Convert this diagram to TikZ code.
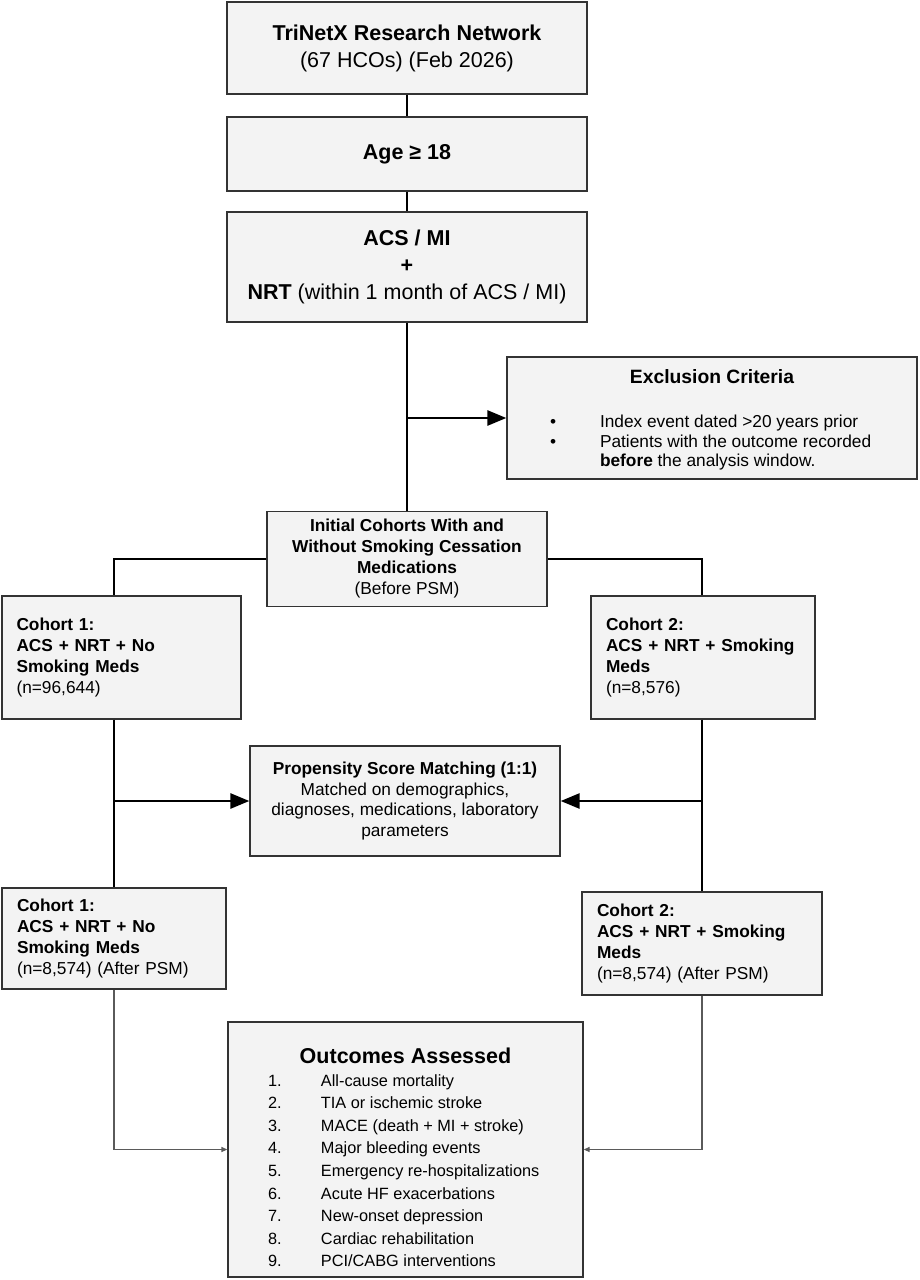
\documentclass[tikz,border=0pt]{standalone}
\usepackage{fontspec}
\setmainfont{Liberation Sans}
\usetikzlibrary{arrows.meta}
\definecolor{boxfill}{HTML}{F3F3F3}
\definecolor{boxline}{HTML}{333333}
\definecolor{thinline}{HTML}{5A5A5A}
\newcommand{\bigfont}{\fontsize{21.5}{27}\selectfont}
\newcommand{\midfont}{\fontsize{17.3}{20.8}\selectfont}
\newcommand{\exbullet}{\hspace*{43pt}\textbullet}

\begin{document}
\begin{tikzpicture}[x=1pt, y=-1pt,
  box/.style={draw=boxline, fill=boxfill, line width=1.3pt, inner sep=0pt, align=center},
  cohort/.style={box, align=left, inner xsep=15pt, font=\midfont},
  link/.style={line width=2.7pt},
  bigarrow/.style={link, -{Triangle[length=19pt,width=15pt]}},
  thinarrow/.style={draw=thinline, line width=1.3pt, -{Triangle[length=6pt,width=5pt]}}]
\useasboundingbox (0,0) rectangle (919,1280);
%\draw[help lines, color=gray!30, dashed] (0,0) grid[step=50] (919,1280);
\node[box, minimum width=360pt, minimum height=92pt, font=\bigfont] (network) at (407,48) {\textbf{TriNetX Research Network}\\(67 HCOs) (Feb 2026)};
\node[box, minimum width=360pt, minimum height=74pt, font=\bigfont\bfseries] (age) at (407,154) {Age ≥ 18};
\node[box, minimum width=360pt, minimum height=110pt, font=\bigfont] (acs) at (407,267) {\textbf{ACS / MI}\\\textbf{+}\\\textbf{NRT} (within 1 month of ACS / MI)};
\node[box, minimum width=410pt, minimum height=122pt] (excl) at (712,418) {\fontsize{17.3}{19.5}\selectfont
  \begin{tabular}{@{}p{93pt}@{}p{317pt}@{}}
  \multicolumn{2}{c}{\rule{0pt}{20pt}\fontsize{19.3}{19.5}\selectfont\bfseries Exclusion Criteria}\\[24.5pt]
  \exbullet & Index event dated >20 years prior\\
  \exbullet & Patients with the outcome recorded\newline\textbf{before} the analysis window.
  \end{tabular}};
\node[box, minimum width=280pt, minimum height=95pt, font=\fontsize{17.3}{21}\selectfont] (initial) at (407,559) {\textbf{Initial Cohorts With and}\\\textbf{Without Smoking Cessation}\\\textbf{Medications}\\(Before PSM)};
\node[cohort, inner xsep=14.5pt, minimum height=123pt, text width=210pt] (coh1pre) at (121.5,657.5) {\textbf{Cohort 1:}\\\textbf{ACS + NRT + No}\\\textbf{Smoking Meds}\\(n=96,644)};
\node[cohort, minimum height=123pt, text width=194pt] (coh2pre) at (703,657.5) {\textbf{Cohort 2:}\\\textbf{ACS + NRT + Smoking}\\\textbf{Meds}\\(n=8,576)};
\node[box, minimum width=310pt, minimum height=110pt, font=\midfont] (psm) at (405,801) {\textbf{Propensity Score Matching (1:1)}\\Matched on demographics,\\diagnoses, medications, laboratory\\parameters};
\node[cohort, minimum height=101pt, text width=194pt] (coh1post) at (114,938.5) {\textbf{Cohort 1:}\\\textbf{ACS + NRT + No}\\\textbf{Smoking Meds}\\(n=8,574) (After PSM)};
\node[cohort, minimum height=103pt, text width=210pt] (coh2post) at (702,943.5) {\textbf{Cohort 2:}\\\textbf{ACS + NRT + Smoking}\\\textbf{Meds}\\(n=8,574) (After PSM)};
\node[box, minimum width=355pt, minimum height=255pt] (outcomes) at (405.5,1149.5) {\fontsize{16.3}{22.6}\selectfont
  \begin{tabular}{@{}p{93pt}@{}p{262pt}@{}}
  \multicolumn{2}{c}{\rule{0pt}{38pt}\fontsize{21.5}{22.6}\selectfont\bfseries Outcomes Assessed}\\
  \hspace*{40pt}1. & All-cause mortality\\
  \hspace*{40pt}2. & TIA or ischemic stroke\\
  \hspace*{40pt}3. & MACE (death + MI + stroke)\\
  \hspace*{40pt}4. & Major bleeding events\\
  \hspace*{40pt}5. & Emergency re-hospitalizations\\
  \hspace*{40pt}6. & Acute HF exacerbations\\
  \hspace*{40pt}7. & New-onset depression\\
  \hspace*{40pt}8. & Cardiac rehabilitation\\
  \hspace*{40pt}9. & PCI/CABG interventions
  \end{tabular}};
% connectors
\draw[link] (network) -- (age);
\draw[link] (age) -- (acs);
\draw[link] (acs) -- (initial);
\coordinate (exsplit) at (acs.south |- excl.west);
\draw[bigarrow] (exsplit) -- (excl.west);
\draw[link] (initial.west) -| (coh1pre.north -| coh1post.north);
\draw[link] (initial.east) -| (coh2pre.north -| coh2post.north);
\draw[link] (coh1pre.south -| coh1post.north) -- (coh1post.north);
\draw[link] (coh2pre.south -| coh2post.north) -- (coh2post.north);
\coordinate (psmleft) at (coh1post.north |- psm.west);
\coordinate (psmright) at (coh2post.north |- psm.east);
\draw[bigarrow] (psmleft) -- (psm.west);
\draw[bigarrow] (psmright) -- (psm.east);
\draw[thinarrow] (coh1post.south) |- (outcomes.west);
\draw[thinarrow] (coh2post.south) |- (outcomes.east);
\end{tikzpicture}
\end{document}
